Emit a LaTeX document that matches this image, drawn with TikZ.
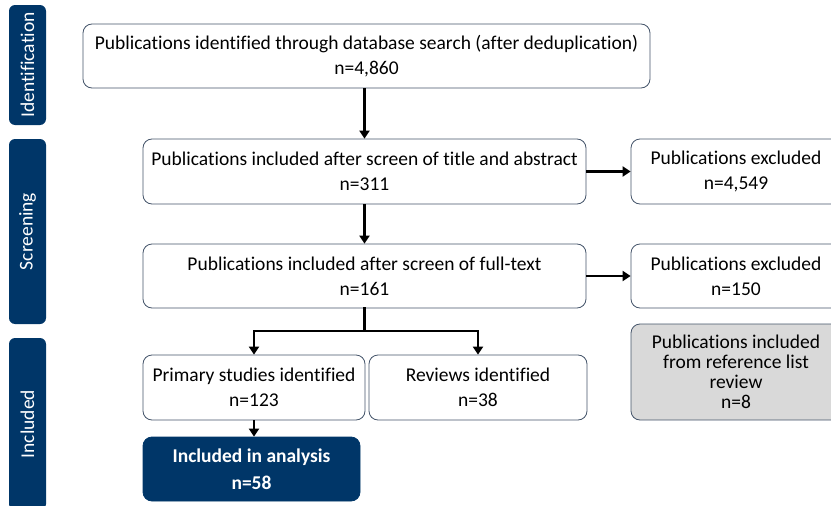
\documentclass[tikz,border=0pt]{standalone}
\usepackage{fontspec}
\setmainfont{Carlito}[Ligatures=NoCommon]
\usetikzlibrary{arrows.meta}
\definecolor{navy}{RGB}{0,54,104}
\definecolor{boxline}{RGB}{68,84,106}
\definecolor{greyfill}{RGB}{217,217,217}
\begin{document}
\begin{tikzpicture}[x=1pt,y=-1pt,
  box/.style={draw=boxline, line width=0.8pt, rounded corners=9pt, fill=white, align=center,
    font=\fontsize{19.5}{25}\selectfont, inner sep=0pt},
  greybox/.style={box, fill=greyfill, font=\fontsize{19.5}{20}\selectfont},
  darkbox/.style={box, draw=navy, fill=navy, text=white, font=\fontsize{19.5}{27}\selectfont\bfseries},
  bar/.style={fill=navy, rounded corners=6pt, text=white, rotate=90, inner sep=0pt,
    minimum height=37pt, font=\fontsize{19.5}{20}\selectfont},
  arr/.style={-{Triangle[length=8pt,width=10pt]}, line width=2.8pt},
  seg/.style={line width=2.8pt, line cap=rect}]
\useasboundingbox (0,0) rectangle (831,506);
\clip (0,0) rectangle (831,506);
% side bars
\node[bar, minimum width=120pt] (bid) at (27.5,65) {Identification};
\node[bar, minimum width=185pt] (bsc) at (27.5,231.5) {Screening};
\node[bar, minimum width=172pt] (bin) at (27.5,424) {Included};
% boxes
\node[box, minimum width=567pt, minimum height=64pt] (b1) at (366.5,56)
  {Publications identified through database search (after deduplication)\\n=4,860};
\node[box, minimum width=443pt, minimum height=65pt] (b2) at (364.5,171.5)
  {Publications included after screen of title and abstract\\n=311};
\node[box, minimum width=210pt, minimum height=65pt] (e1) at (736,171.5)
  {Publications excluded\\n=4,549};
\node[box, minimum width=443pt, minimum height=64pt] (b3) at (364.5,276)
  {Publications included after screen of full-text\\n=161};
\node[box, minimum width=210pt, minimum height=64pt] (e2) at (736,276)
  {Publications excluded\\n=150};
\node[box, minimum width=222pt, minimum height=65pt] (prim) at (254,387.5)
  {Primary studies identified\\n=123};
\node[box, minimum width=218pt, minimum height=65pt] (rev) at (478,387.5)
  {Reviews identified\\n=38};
\node[greybox, minimum width=210pt, minimum height=96pt] (ref) at (736,372)
  {Publications included\\from reference list\\review\\n=8};
\node[darkbox, minimum width=217pt, minimum height=64pt] (ana) at (251.5,469)
  {Included in analysis\\n=58};
% connectors
\draw[arr] (b1.south -| b2.north) -- (b2.north);
\draw[arr] (b2.south) -- (b3.north);
\draw[arr] (b2.east) -- (e1.west);
\draw[arr] (b3.east) -- (e2.west);
\coordinate (split) at (364.5,331);
\draw[seg] (b3.south) -- (split);
\draw[seg] (prim.north |- split) -- (rev.north |- split);
\draw[arr] (prim.north |- split) -- (prim.north);
\draw[arr] (rev.north |- split) -- (rev.north);
\draw[arr] (prim.south) -- (prim.south |- ana.north);
\end{tikzpicture}
\end{document}
